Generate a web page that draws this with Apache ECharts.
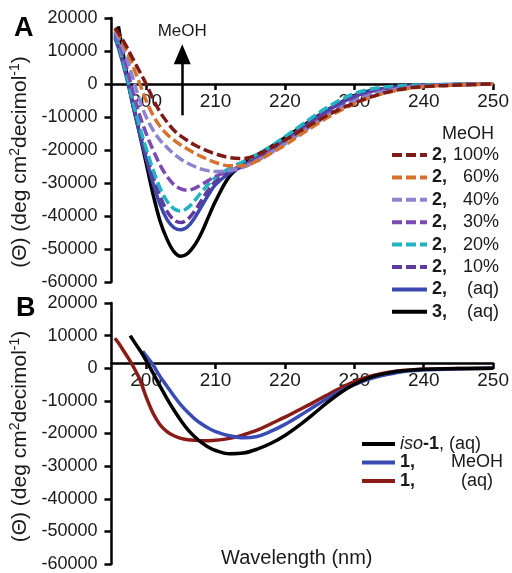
<!DOCTYPE html>
<html>
<head>
<meta charset="utf-8">
<script src="https://cdn.jsdelivr.net/npm/echarts@6/dist/echarts.min.js"></script>
<style>
html,body{margin:0;padding:0;background:#fff;}
#chart{width:512px;height:573px;}
</style>
</head>
<body>
<div id="chart"></div>
<script>
// ---------- DATA ----------
var xTicks = [200, 210, 220, 230, 240, 250];
var yTicks = [20000, 10000, 0, -10000, -20000, -30000, -40000, -50000, -60000];

// Panel A wavelengths (nm)
var waveA = [195.5, 196, 197, 198, 199, 200, 201, 202, 203, 204, 205, 206, 207, 208, 209, 210, 212, 214, 216, 218, 220, 222, 224, 226, 228, 230, 232, 234, 236, 238, 240, 245, 250];
var a2_100 = [17000, 15500, 12000, 8000, 4000, 0, -4500, -8500, -11500, -14000, -15800, -17200, -18500, -19500, -20400, -21200, -22300, -22600, -21500, -19300, -17000, -14500, -12000, -9600, -7500, -5800, -4200, -2900, -1900, -1200, -800, -300, 0];
var a2_60 = [16500, 15000, 11000, 6000, 500, -5000, -9500, -12800, -15200, -17000, -18500, -19800, -21000, -22000, -23000, -23800, -24800, -24800, -23300, -21000, -18500, -15700, -13000, -10300, -8000, -6000, -4300, -3000, -2000, -1300, -800, -300, 0];
var a2_40 = [16000, 14000, 9000, 2500, -4500, -10000, -14000, -17000, -19200, -21200, -22800, -24000, -25000, -25800, -26300, -26500, -26200, -25200, -23200, -20800, -18200, -15300, -12500, -9800, -7300, -5200, -3600, -2400, -1600, -1000, -600, -200, 0];
var a2_30 = [15500, 13000, 6500, -1500, -9000, -15000, -20000, -24500, -28000, -30500, -31800, -32200, -31600, -30500, -29200, -28000, -26300, -24800, -22800, -20300, -17700, -14800, -12000, -9300, -6800, -4700, -3200, -2100, -1400, -900, -500, -200, 0];
var a2_20 = [15000, 12000, 4500, -4500, -12500, -19500, -26000, -31500, -35500, -37800, -38500, -37500, -35300, -32700, -30300, -28300, -25500, -23500, -21300, -18800, -16000, -13000, -10000, -7200, -4800, -2900, -1700, -1000, -600, -400, -200, -100, 0];
var a2_10 = [14500, 11500, 4000, -5000, -13500, -21000, -28000, -34000, -38500, -41200, -42000, -41000, -38500, -35200, -32000, -29500, -26500, -24500, -22300, -19700, -17000, -14000, -11000, -8200, -5700, -3700, -2400, -1500, -900, -600, -400, -100, 0];
var a2_aq = [14000, 11000, 3500, -5500, -14500, -22500, -30000, -36500, -41000, -43500, -44200, -43200, -40500, -37000, -33500, -30500, -27000, -24800, -22500, -19900, -17100, -14100, -11100, -8300, -5800, -3800, -2400, -1500, -900, -600, -400, -100, 0];
var a3_aq = [null, 17500, 5500, -5500, -14500, -24000, -33500, -41500, -47000, -50800, -52200, -51300, -48800, -45000, -40200, -35500, -28000, -24300, -21500, -19000, -16300, -13500, -10700, -8000, -5600, -3500, -2200, -1500, -1000, -700, -500, -200, 0];

// Panel B wavelengths (nm)
var waveB = [195.5, 196, 197, 197.7, 198, 199, 199.5, 200, 201, 202, 203, 204, 205, 206, 207, 208, 209, 210, 212, 214, 216, 218, 220, 222, 224, 226, 228, 230, 232, 234, 236, 238, 240, 245, 250];
var bIso1_aq = [null, null, null, 10000, 9000, 5800, 4200, 2300, -1500, -5500, -9300, -12800, -16000, -18800, -21000, -22800, -24200, -25200, -26200, -26000, -24800, -23000, -20600, -17600, -14200, -10700, -7500, -4900, -3000, -1800, -1000, -600, -300, -100, 0];
var b1_MeOH = [null, null, null, null, null, null, 5200, 3800, 1000, -2500, -5500, -8500, -11200, -13500, -15500, -17100, -18400, -19400, -20700, -21300, -20900, -19300, -17200, -14700, -12000, -9400, -7000, -5000, -3400, -2200, -1400, -800, -500, -200, 0];
var b1_aq = [9200, 7800, 4500, 2200, 1100, -3000, -5800, -8800, -13800, -17300, -19400, -20700, -21500, -21900, -22100, -22200, -22200, -22100, -21500, -20400, -19000, -17000, -15000, -12800, -10600, -8300, -6100, -4100, -2600, -1600, -900, -500, -300, -100, 0];

// Annotation arrow (MeOH increasing) in data units
var arrowX = 205.2;
var arrowY = [-9500, 9000];

// ---------- BUILD ----------
function pairs(xs, ys) {
  var out = [];
  for (var i = 0; i < xs.length; i++) { if (ys[i] !== null) out.push([xs[i], ys[i]]); }
  return out;
}
var FONT = 'Liberation Sans';
var INK = '#1a1a1a';

var seriesA = [
  {name: '2, 100%', data: a2_100, color: '#7d1c16', dash: true},
  {name: '2, 60%', data: a2_60, color: '#d4722e', dash: true},
  {name: '2, 40%', data: a2_40, color: '#8b86cf', dash: true},
  {name: '2, 30%', data: a2_30, color: '#7a4bb3', dash: true},
  {name: '2, 20%', data: a2_20, color: '#22b3c2', dash: true},
  {name: '2, 10%', data: a2_10, color: '#5f3aa0', dash: true},
  {name: '2, (aq)', data: a2_aq, color: '#3b48ad', dash: false},
  {name: '3, (aq)', data: a3_aq, color: '#000000', dash: false}
];
var seriesB = [
  {name: 'iso-1, (aq)', data: bIso1_aq, color: '#000000'},
  {name: '1, MeOH', data: b1_MeOH, color: '#3a4cb4'},
  {name: '1, (aq)', data: b1_aq, color: '#8a1c18'}
];

var series = [];
seriesA.forEach(function (s, i) {
  series.push({
    name: s.name, type: 'line', xAxisIndex: 0, yAxisIndex: 0,
    data: pairs(waveA, s.data), smooth: 0.35, symbol: 'none', showSymbol: false,
    color: s.color,
    lineStyle: {color: s.color, width: 3.5, type: s.dash ? [10, 4] : 'solid'},
    z: 10 - i
  });
});
seriesB.forEach(function (s, i) {
  series.push({
    name: s.name, type: 'line', xAxisIndex: 1, yAxisIndex: 1,
    data: pairs(waveB, s.data), smooth: 0.35, symbol: 'none', showSymbol: false,
    color: s.color,
    lineStyle: {color: s.color, width: 3.5},
    z: 10 - i
  });
});
// arrow annotation
series.push({
  type: 'line', xAxisIndex: 0, yAxisIndex: 0, data: [], symbol: 'none', silent: true,
  markLine: {
    silent: true, symbol: ['none', 'triangle'], symbolSize: [17, 20],
    lineStyle: {color: '#000', width: 2.5, type: 'solid'},
    label: {show: true, position: 'end', formatter: 'MeOH', color: INK, fontFamily: FONT, fontSize: 17, distance: 14},
    data: [[{coord: [arrowX, arrowY[0]]}, {coord: [arrowX, arrowY[1]]}]]
  }
});

function xAxisCfg(gi, off) {
  return {
    type: 'value', gridIndex: gi, min: 195, max: 250, position: 'bottom', offset: off,
    axisLine: {onZero: false, lineStyle: {color: '#000', width: 2.5}},
    axisTick: {show: true, length: 6, lineStyle: {color: '#000', width: 2.5}, customValues: xTicks},
    axisLabel: {color: INK, fontFamily: FONT, fontSize: 19, margin: 8, customValues: xTicks},
    splitLine: {show: false}
  };
}
var yName = '(Θ) (deg cm{s|2}decimol{s|-1})';
function yAxisCfg(gi, shiftPad) {
  return {
    type: 'value', gridIndex: gi, min: -60000, max: 20000, interval: 10000,
    axisLine: {show: true, onZero: false, lineStyle: {color: '#000', width: 2.5}},
    axisTick: {show: true, length: 7, lineStyle: {color: '#000', width: 2.5}},
    axisLabel: {color: INK, fontFamily: FONT, fontSize: 18, margin: 14,
      formatter: function (v) { return yTicks.indexOf(v) >= 0 ? String(v) : ''; }},
    splitLine: {show: false},
    name: yName, nameLocation: 'middle', nameRotate: 90, nameGap: 75,
    nameTextStyle: {color: INK, fontFamily: FONT, fontSize: 21, padding: [0, shiftPad, 0, 0],
      rich: {s: {fontSize: 14, fontFamily: FONT, color: INK, padding: [0, 0, 10, 0]}}}
  };
}

var richA = {
  b: {fontWeight: 'bold', fontSize: 18, fontFamily: FONT, color: INK},
  p: {fontSize: 18, fontFamily: FONT, color: INK, width: 52, align: 'right'}
};
var richB = {
  i: {fontStyle: 'italic', fontSize: 18, fontFamily: FONT, color: INK},
  b: {fontWeight: 'bold', fontSize: 18, fontFamily: FONT, color: INK},
  n: {fontSize: 18, fontFamily: FONT, color: INK},
  q: {fontSize: 18, fontFamily: FONT, color: INK, width: 124, align: 'center'}
};

var option = {
  animation: false,
  backgroundColor: '#fff',
  grid: [
    {left: 108, top: 18, width: 387, height: 264, containLabel: false},
    {left: 108, top: 303, width: 387, height: 268, containLabel: false}
  ],
  // zero line of each panel sits 3/4 of the way up: offset moves the x axis there
  xAxis: [xAxisCfg(0, -198), xAxisCfg(1, -201)],
  yAxis: [yAxisCfg(0, 24), yAxisCfg(1, 6)],
  title: [
    {text: 'A', left: 9, top: 10, textStyle: {fontFamily: FONT, fontSize: 27, fontWeight: 'bold', color: '#000'}},
    {text: 'B', left: 11, top: 290, textStyle: {fontFamily: FONT, fontSize: 27, fontWeight: 'bold', color: '#000'}},
    {text: 'MeOH', left: 437, top: 120, textStyle: {fontFamily: FONT, fontSize: 18, fontWeight: 'normal', color: INK}},
    {text: 'Wavelength (nm)', left: 216, top: 543, textStyle: {fontFamily: FONT, fontSize: 20, fontWeight: 'normal', color: INK}}
  ],
  legend: [
    {
      orient: 'vertical', left: 385, top: 141, itemWidth: 35, itemHeight: 12, itemGap: 4.4,
      data: seriesA.map(function (s) { return s.name; }),
      formatter: function (name) {
        var parts = name.split(', ');
        return '{b|' + parts[0] + ',}{p|' + parts[1] + '}';
      },
      itemStyle: {opacity: 0},
      lineStyle: {width: 4},
      textStyle: {fontFamily: FONT, fontSize: 18, color: INK, rich: richA},
      selectedMode: false
    },
    {
      orient: 'vertical', left: 355, top: 430, itemWidth: 33, itemHeight: 12, itemGap: 0.5,
      data: seriesB.map(function (s) { return s.name; }),
      formatter: function (name) {
        if (name === 'iso-1, (aq)') return '{i|iso}{b|-1}{n|, (aq)}';
        var parts = name.split(', ');
        return '{b|' + parts[0] + ',}{q|' + parts[1] + '}';
      },
      itemStyle: {opacity: 0},
      lineStyle: {width: 4},
      textStyle: {fontFamily: FONT, fontSize: 18, color: INK, rich: richB},
      selectedMode: false
    }
  ],
  series: series
};

var chart = echarts.init(document.getElementById('chart'), null, {renderer: 'canvas'});
chart.setOption(option);
</script>
</body>
</html>
